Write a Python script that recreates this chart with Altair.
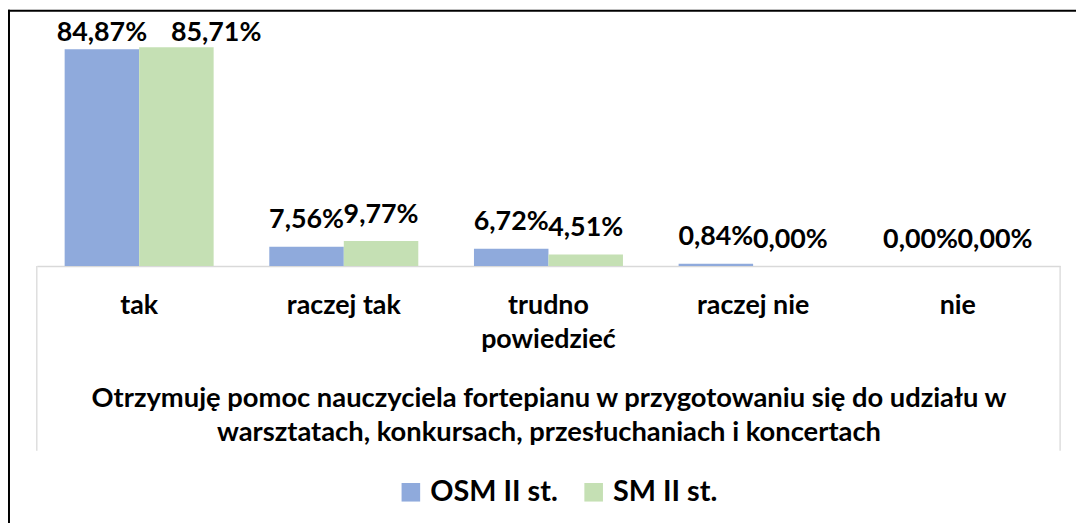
import altair as alt
import pandas as pd

categories = ["tak", "raczej tak", "trudno powiedzieć", "raczej nie", "nie"]
series_names = ["OSM II st.", "SM II st."]
osm_values = [84.87, 7.56, 6.72, 0.84, 0.00]
sm_values = [85.71, 9.77, 4.51, 0.00, 0.00]
colors = ["#8FAADC", "#C5E0B4"]
axis_title = [
    "Otrzymuję pomoc nauczyciela fortepianu w przygotowaniu się do udziału w",
    "warsztatach, konkursach, przesłuchaniach i koncertach",
]

rows = []
for s, vals in zip(series_names, [osm_values, sm_values]):
    for c, v in zip(categories, vals):
        rows.append({"category": c, "series": s, "value": v,
                     "label": f"{v:.2f}".replace(".", ",") + "%"})
df = pd.DataFrame(rows)

FONT = "Lato"
W, H = 1030, 257

x_enc = alt.X(
    "category:N", sort=categories,
    scale=alt.Scale(paddingInner=0.272, paddingOuter=0.136),
    axis=alt.Axis(
        title=axis_title, labelAngle=0, ticks=False,
        labelFont=FONT, labelFontSize=27, labelFontWeight="bold", labelColor="black",
        labelPadding=26.7, labelLimit=1000, labelLineHeight=34,
        labelExpr="datum.value == 'trudno powiedzieć' ? ['trudno', 'powiedzieć'] : datum.label",
        domainColor="#d9d9d9", domainWidth=1.3,
        titleFont=FONT, titleFontSize=27.5, titleFontWeight="bold", titleColor="black",
        titleBaseline="alphabetic", titleY=141, titleLineHeight=35, titleLimit=2000,
    ),
)
xoff = alt.XOffset("series:N", sort=series_names,
                   scale=alt.Scale(paddingInner=0, paddingOuter=0))

base = alt.Chart(df)

bars = base.mark_bar().encode(
    x=x_enc, xOffset=xoff,
    y=alt.Y("value:Q", scale=alt.Scale(domain=[0, 100]), axis=None),
    color=alt.Color(
        "series:N",
        scale=alt.Scale(domain=series_names, range=colors),
        legend=alt.Legend(
            title=None, orient="none", direction="horizontal",
            legendX=362, legendY=470, symbolType="square", symbolSize=350,
            symbolStrokeWidth=0, labelFont=FONT, labelFontSize=29,
            labelFontWeight="bold", labelColor="black", labelOffset=5,
            columnPadding=21, padding=0, labelLimit=500,
        ),
    ),
)

text_style = dict(font=FONT, fontSize=27, fontWeight="bold", color="black",
                  baseline="alphabetic", dy=-18.5)
text_enc = dict(
    x=alt.X("category:N", sort=categories), xOffset=xoff,
    y=alt.Y("ly:Q"), text="label:N",
)
is_shifted = "datum.category == 'tak' && datum.series == 'SM II st.'"

labels = base.transform_calculate(
    ly="min(datum.value, 81)"
).transform_filter("!(" + is_shifted + ")").mark_text(**text_style).encode(**text_enc)

labels_shifted = base.transform_calculate(
    ly="min(datum.value, 81)"
).transform_filter(is_shifted).mark_text(dx=40, **text_style).encode(**text_enc)

one = alt.Chart(pd.DataFrame({"a": [0]}))
side_lines = one.mark_rule(color="#d9d9d9", strokeWidth=1.3).encode(
    x=alt.value(0), y=alt.value(H), y2=alt.value(443)
) + one.mark_rule(color="#d9d9d9", strokeWidth=1.3).encode(
    x=alt.value(W), y=alt.value(H), y2=alt.value(443)
)
border = one.mark_rule(color="black", strokeWidth=2).encode(
    x=alt.value(-28), y=alt.value(-1), y2=alt.value(520)
) + one.mark_rule(color="black", strokeWidth=2).encode(
    x=alt.value(-29), x2=alt.value(1060), y=alt.value(0)
)

chart = alt.layer(bars, labels, labels_shifted, side_lines, border).properties(
    width=W, height=H,
    autosize=alt.AutoSizeParams(type="none"),
    padding={"left": 29, "top": 1, "right": 16, "bottom": 257},
    background="white",
).configure_view(stroke=None)

chart.save("out.html", embed_options={"renderer": "svg", "actions": False})
